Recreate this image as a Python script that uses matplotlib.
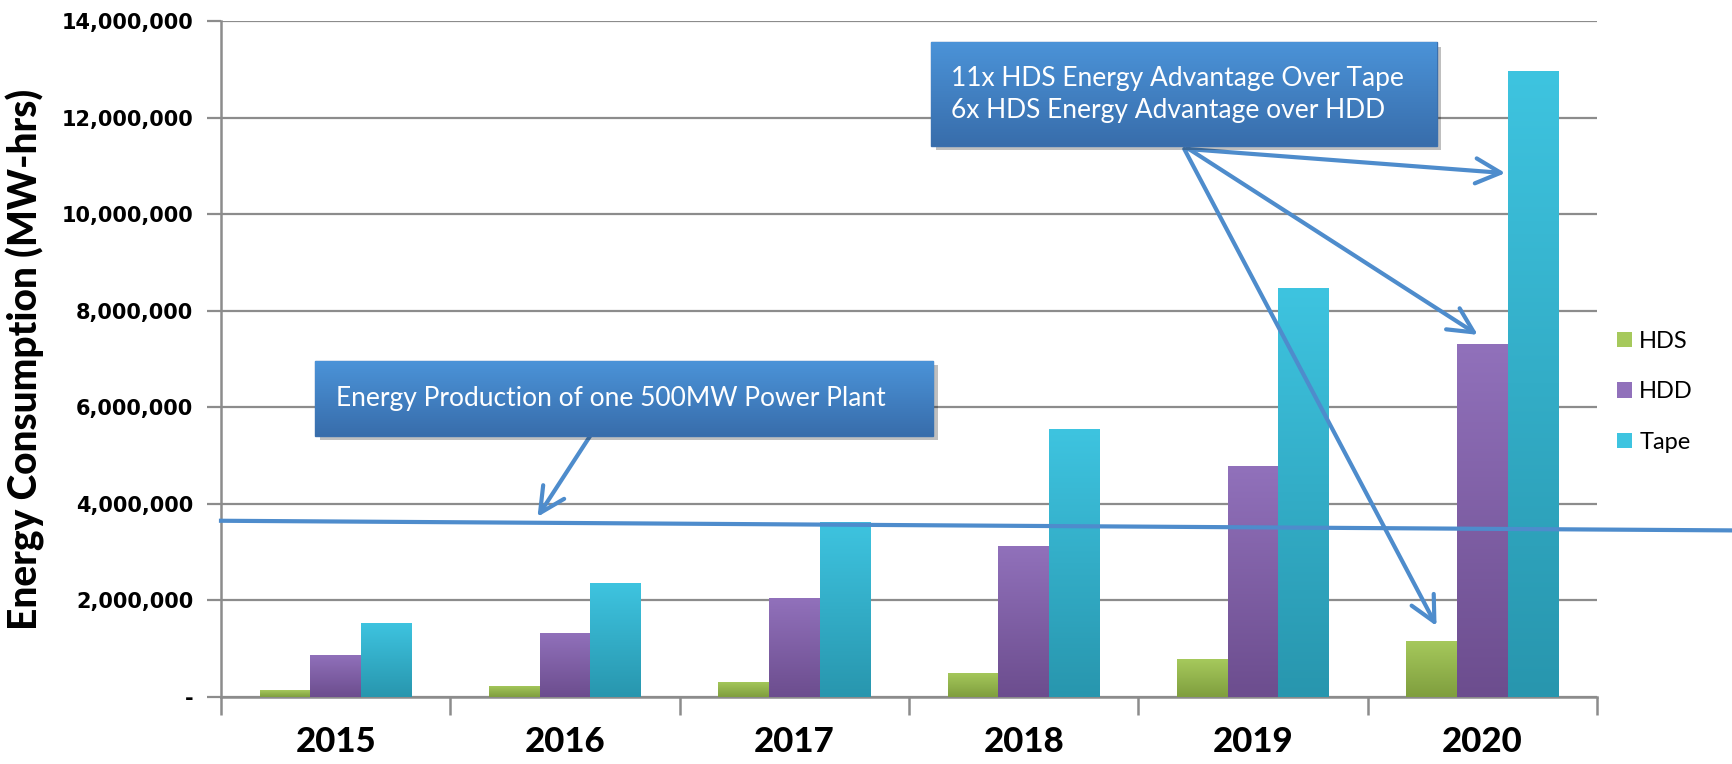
import numpy as np
import matplotlib
matplotlib.use("Agg")
import matplotlib.pyplot as plt
from matplotlib.colors import LinearSegmentedColormap
from matplotlib.patches import Rectangle, FancyArrowPatch
from matplotlib.ticker import FuncFormatter, MultipleLocator

# Data: yearly energy consumption by storage technology (MW-hrs)
years = ["2015", "2016", "2017", "2018", "2019", "2020"]
hds = [140000, 230000, 320000, 500000, 780000, 1160000]
hdd = [870000, 1330000, 2040000, 3130000, 4780000, 7320000]
tape = [1540000, 2360000, 3620000, 5540000, 8470000, 12970000]
series_names = ["HDS", "HDD", "Tape"]

# reference line for one 500MW power plant (drawn slightly sloped, as sketched)
plant_line = [3650000, 3450000]

# (top colour, bottom colour) per series
bar_colors = [("#a6c95c", "#7f9e3e"), ("#9171bb", "#6c4d8e"), ("#3ec4e0", "#2896ae")]
box_top, box_bottom = "#4b93d8", "#386dab"
arrow_color = "#4e8ccc"

plt.rcParams["font.family"] = ["Lato", "DejaVu Sans"]

fig = plt.figure(figsize=(17.32, 7.64), dpi=100)
ax = fig.add_axes([0.1276, 0.0877, 0.7945, 0.8848])

x = np.arange(len(years))
bar_w = 0.221
grad = np.linspace(1, 0, 256).reshape(-1, 1)
handles = []
for i, (vals, name, (c_top, c_bot)) in enumerate(zip([hds, hdd, tape], series_names, bar_colors)):
    cmap = LinearSegmentedColormap.from_list(name, [c_bot, c_top])
    bars = ax.bar(x + (i - 1) * bar_w, vals, width=bar_w, color=c_top, edgecolor="none",
                  label=name, zorder=3)
    handles.append(bars)
    for b in bars:
        bx, by = b.get_x(), b.get_y()
        bw, bh = b.get_width(), b.get_height()
        im = ax.imshow(grad, extent=[bx, bx + bw, by, by + bh], aspect="auto",
                       cmap=cmap, zorder=3.5, interpolation="bilinear")
        im.set_clip_path(b)

ax.set_xlim(-0.5, len(years) - 0.5)
ax.set_ylim(0, 14000000)

# axes styling
grid_c = "#8c8c8c"
ax.yaxis.set_major_locator(MultipleLocator(2000000))
ax.yaxis.set_major_formatter(FuncFormatter(lambda v, p: "-" if v == 0 else f"{int(v):,}"))
ax.grid(axis="y", color=grid_c, lw=1.6, zorder=0)
for s in ["top", "right"]:
    ax.spines[s].set_visible(False)
for s in ["left", "bottom"]:
    ax.spines[s].set_color(grid_c)
    ax.spines[s].set_linewidth(1.8)

ax.tick_params(axis="y", direction="out", length=10, width=1.6, color=grid_c, pad=10)
for lbl in ax.get_yticklabels():
    lbl.set_fontfamily("DejaVu Sans")
    lbl.set_fontweight("bold")
    lbl.set_fontsize(15)

ax.set_xticks(x)
ax.set_xticklabels(years, fontsize=25, fontweight="black")
ax.set_xticks(np.arange(-0.5, len(years)), minor=True)
ax.tick_params(axis="x", which="major", length=0, pad=21)
ax.tick_params(axis="x", which="minor", direction="out", length=13, width=1.8, color=grid_c)

ax.set_ylabel("Energy Consumption (MW-hrs)", fontsize=28, fontweight="black", labelpad=12)

ax.legend(handles=handles, labels=series_names, loc="center left",
          bbox_to_anchor=(0.9213, 0.487), bbox_transform=fig.transFigure, frameon=False,
          fontsize=17, handlelength=0.64, handleheight=0.64, handletextpad=0.3,
          labelspacing=1.25)

# power plant line, running past the plot area to the right edge
ax.plot([-0.5, 6.1], plant_line, color=arrow_color, lw=3, clip_on=False, zorder=6)

box_cmap = LinearSegmentedColormap.from_list("box", [box_bottom, box_top])


def callout(x0, x1, y0, y1, text, tx, fontsize):
    # drop shadow
    ax.add_patch(Rectangle((x0 + 0.02, y0 - 90000), x1 - x0, y1 - y0, color="#000000",
                           alpha=0.25, lw=0, zorder=7, clip_on=False))
    frame = Rectangle((x0, y0), x1 - x0, y1 - y0, facecolor=box_top, edgecolor="#3a6fae",
                      lw=1, zorder=8, clip_on=False)
    ax.add_patch(frame)
    im = ax.imshow(grad, extent=[x0, x1, y0, y1], aspect="auto", cmap=box_cmap,
                   zorder=8.5, interpolation="bilinear")
    im.set_clip_path(frame)
    ax.text(tx, (y0 + y1) / 2, text, color="white", fontsize=fontsize, va="center",
            ha="left", zorder=9, linespacing=1.35)


def arrow(p0, p1):
    ax.add_patch(FancyArrowPatch(p0, p1, arrowstyle="->,head_length=1.0,head_width=0.5",
                                 color=arrow_color, lw=3, mutation_scale=18, zorder=6,
                                 clip_on=False, shrinkA=0, shrinkB=0))


callout(-0.09, 2.605, 5410000, 6960000, "Energy Production of one 500MW Power Plant", 0.0, 19)
callout(2.596, 4.80, 11410000, 13560000,
        "11x HDS Energy Advantage Over Tape\n6x HDS Energy Advantage over HDD", 2.685, 19)

arrow((1.11, 5410000), (0.88, 3730000))
arrow((3.71, 11350000), (5.10, 10850000))
arrow((3.72, 11350000), (4.98, 7500000))
arrow((3.70, 11350000), (4.80, 1470000))

ax.set_xlim(-0.5, len(years) - 0.5)
ax.set_ylim(0, 14000000)

fig.savefig("out.png", dpi=100)
